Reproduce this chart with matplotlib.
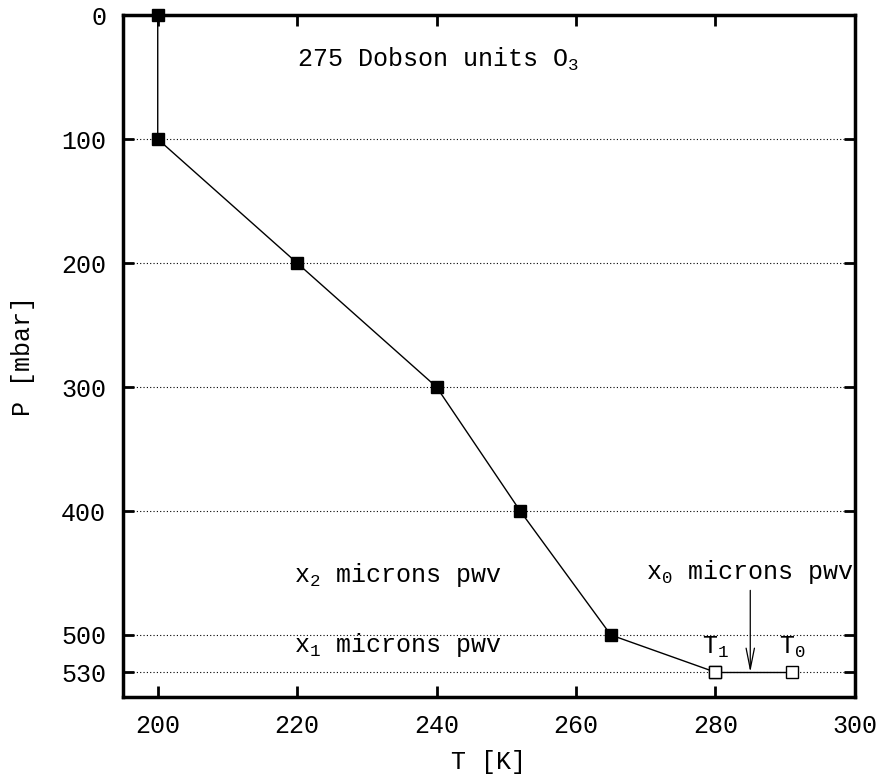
"""
plot.py -- temperature / pressure profile with ozone and pwv annotations
"""

import matplotlib.pyplot as plt

# profile data (filled squares)
temp_k = [200, 200, 220, 240, 252, 265, 280]
press_mbar = [0, 100, 200, 300, 400, 500, 530]

# surface layer points (open squares)
surf_temp = [280, 291]
surf_press = [530, 530]
surf_labels = ["T$_1$", "T$_0$"]

x_ticks = [200, 220, 240, 260, 280, 300]
y_ticks = [0, 100, 200, 300, 400, 500, 530]

FONT = "Liberation Mono"
FS = 18
plt.rcParams["font.family"] = [FONT, "DejaVu Sans Mono"]
plt.rcParams["mathtext.fontset"] = "custom"
plt.rcParams["mathtext.rm"] = FONT
plt.rcParams["mathtext.it"] = FONT

fig = plt.figure(figsize=(8.84, 7.74), dpi=100)
ax = fig.add_axes([0.139, 0.0995, 0.828, 0.881])

# dotted grid lines at the pressure levels
for p in y_ticks[1:]:
    ax.axhline(p, color="black", linestyle=(0, (1, 2)), linewidth=0.8, zorder=1)

ax.plot(temp_k, press_mbar, color="black", linewidth=1.0, marker="s",
        markersize=8, markerfacecolor="black", markeredgecolor="black",
        zorder=3, clip_on=False)
ax.plot(surf_temp, surf_press, color="black", linewidth=1.0, marker="s",
        markersize=8, markerfacecolor="white", markeredgecolor="black",
        markeredgewidth=1.0, zorder=4)

for t, p, lab in zip(surf_temp, surf_press, surf_labels):
    ax.text(t, p - 10, lab, ha="center", va="bottom", fontsize=FS)

ax.text(220, 36, "275 Dobson units O$_3$", ha="left", va="center", fontsize=FS)
ax.text(219.5, 452, "x$_2$ microns pwv", ha="left", va="center", fontsize=FS)
ax.text(219.5, 508, "x$_1$ microns pwv", ha="left", va="center", fontsize=FS)
ax.text(270, 449, "x$_0$ microns pwv", ha="left", va="center", fontsize=FS)

ax.annotate("", xy=(285, 530), xytext=(285, 464),
            arrowprops=dict(arrowstyle="->,head_length=1.5,head_width=0.3",
                            color="black", linewidth=0.9, shrinkA=0, shrinkB=0))

ax.set_xlim(195, 300)
ax.set_ylim(550, 0)
ax.set_xticks(x_ticks)
ax.set_yticks(y_ticks)
ax.tick_params(direction="in", length=8, width=2, labelsize=FS,
               top=True, right=True, pad=12)

for s in ax.spines.values():
    s.set_linewidth(2.5)

ax.set_xlabel("T [K]", fontsize=FS)
ax.xaxis.set_label_coords(0.5, -0.078)
ax.set_ylabel("P [mbar]", fontsize=FS)
ax.yaxis.set_label_coords(-0.12, 0.5)

fig.savefig("out.png", dpi=100)
